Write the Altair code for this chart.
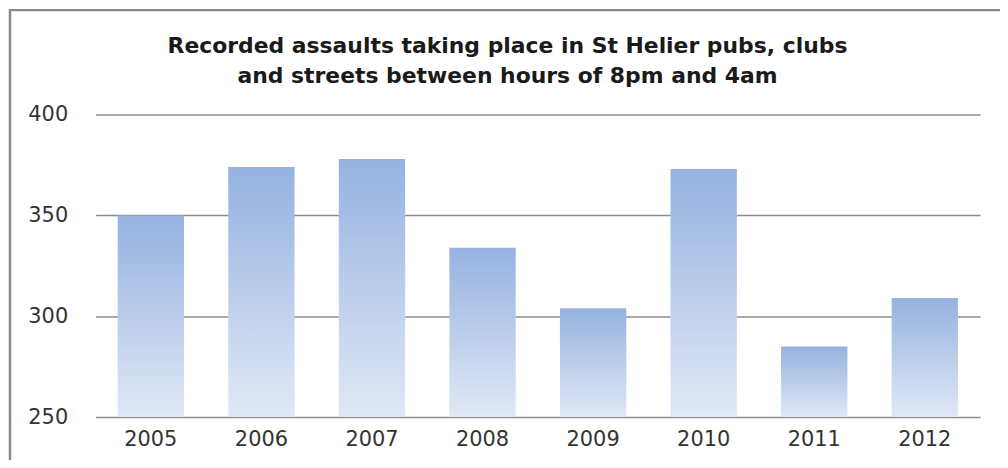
import altair as alt
import pandas as pd

years = ["2005", "2006", "2007", "2008", "2009", "2010", "2011", "2012"]
assaults = [350, 374, 378, 334, 304, 373, 285, 309]
y_ticks = [250, 300, 350, 400]
title_lines = ["Recorded assaults taking place in St Helier pubs, clubs",
               "and streets between hours of 8pm and 4am"]

df = pd.DataFrame({"year": years, "assaults": assaults})

gradient = alt.Gradient(
    gradient="linear",
    stops=[alt.GradientStop(color="#95b2e0", offset=0),
           alt.GradientStop(color="#e1e8f6", offset=1)],
    x1=0, x2=0, y1=0, y2=1,
)

label_font = "DejaVu Sans"

bars = alt.Chart(df).mark_bar(color=gradient).encode(
    x=alt.X("year:N", sort=years, title=None,
            scale=alt.Scale(paddingInner=0.4, paddingOuter=0.2),
            axis=alt.Axis(labelAngle=0, ticks=False, domain=False, labelPadding=12,
                          labelFont=label_font, labelFontSize=21, labelColor="#333333",
                          grid=False)),
    y=alt.Y("assaults:Q", title=None,
            scale=alt.Scale(domain=[250, 400], nice=False, zero=False),
            axis=alt.Axis(values=y_ticks, ticks=False, domain=False, labelPadding=28,
                          labelFont=label_font, labelFontSize=21, labelColor="#333333",
                          grid=True, gridColor="#8c8c8c", gridWidth=1.5)),
    y2=alt.datum(250),
)

one = pd.DataFrame({"a": [0]})

frame = alt.Chart(one).mark_rect(
    fill=None, stroke="#8a8a8a", strokeWidth=2.5
).encode(
    x=alt.value(-86), x2=alt.value(940), y=alt.value(-105), y2=alt.value(380)
)

t1 = alt.Chart(one).mark_text(
    text=title_lines[0], font="DejaVu Sans", fontSize=22, fontWeight="bold",
    color="#1a1a1a", align="center", baseline="middle"
).encode(x=alt.value(414), y=alt.value(-69))
t2 = alt.Chart(one).mark_text(
    text=title_lines[1], font="DejaVu Sans", fontSize=22, fontWeight="bold",
    color="#1a1a1a", align="center", baseline="middle"
).encode(x=alt.value(414), y=alt.value(-39))

chart = alt.layer(frame, bars, t1, t2).properties(
    width=889, height=304,
    background="white",
    autosize=alt.AutoSizeParams(type="none"),
    padding={"left": 88, "top": 106, "right": 20, "bottom": 42},
).configure_view(strokeWidth=0)

chart.save("out.html", embed_options={"renderer": "svg", "actions": False})
